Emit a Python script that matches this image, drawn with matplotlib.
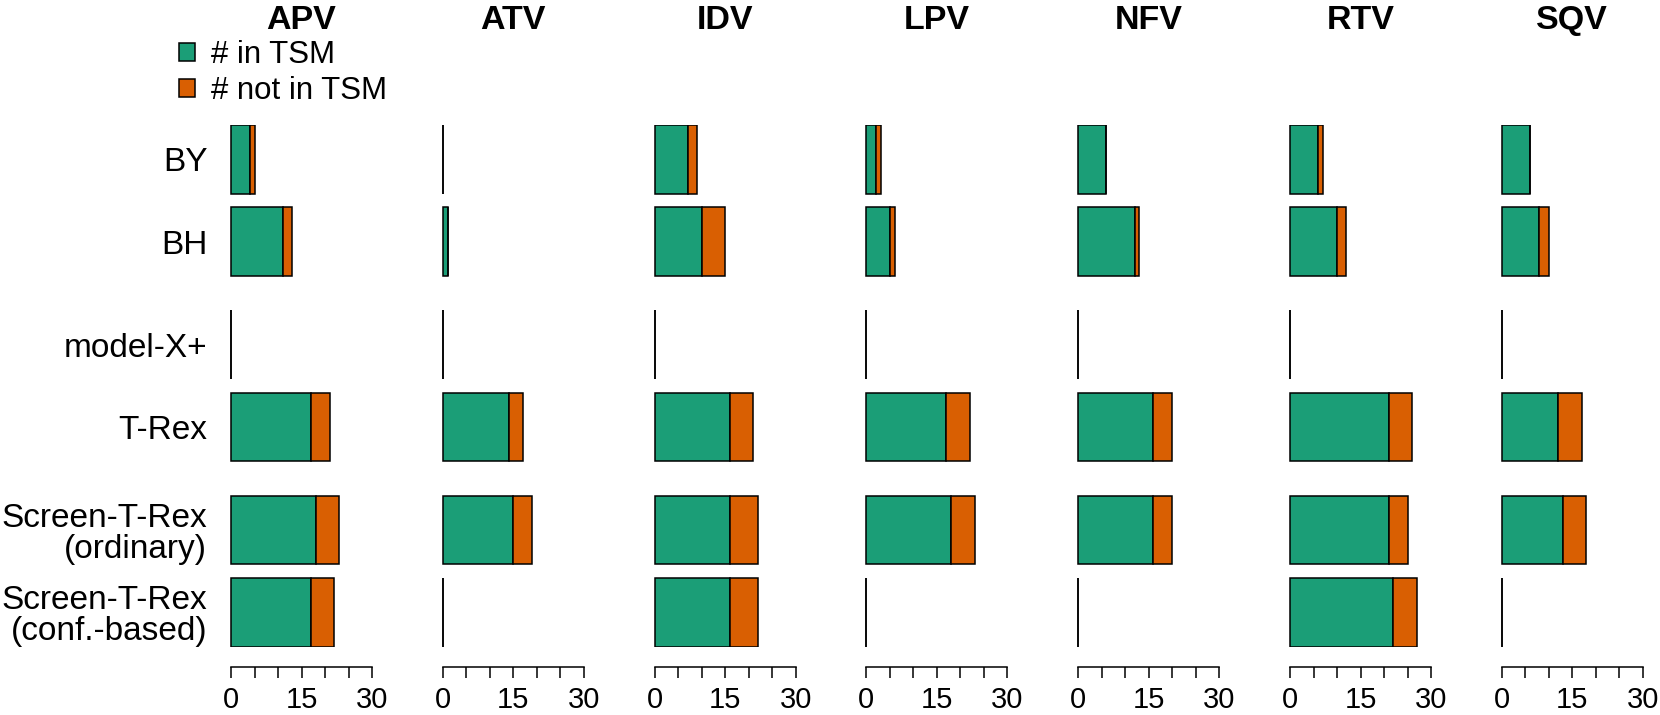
import matplotlib
matplotlib.use("Agg")
import matplotlib.pyplot as plt
import numpy as np

plt.rcParams["font.family"] = ["Liberation Sans", "DejaVu Sans"]

drugs = ["APV", "ATV", "IDV", "LPV", "NFV", "RTV", "SQV"]
methods = ["BY", "BH", "model-X+", "T-Rex",
           "Screen-T-Rex\n(ordinary)", "Screen-T-Rex\n(conf.-based)"]

# number of selected mutations per drug, in method order
in_tsm = {
    "APV": [4, 11, 0, 17, 18, 17],
    "ATV": [0, 1, 0, 14, 15, 0],
    "IDV": [7, 10, 0, 16, 16, 16],
    "LPV": [2, 5, 0, 17, 18, 0],
    "NFV": [6, 12, 0, 16, 16, 0],
    "RTV": [6, 10, 0, 21, 21, 22],
    "SQV": [6, 8, 0, 12, 13, 0],
}
not_in_tsm = {
    "APV": [1, 2, 0, 4, 5, 5],
    "ATV": [0, 0, 0, 3, 4, 0],
    "IDV": [2, 5, 0, 5, 6, 6],
    "LPV": [1, 1, 0, 5, 5, 0],
    "NFV": [0, 1, 0, 4, 4, 0],
    "RTV": [1, 2, 0, 5, 4, 5],
    "SQV": [0, 2, 0, 5, 5, 0],
}

green = "#1b9e77"
orange = "#d95f02"

# bar spacing like R barplot(space=...)
space = [0, 0.2, 0.5, 0.2, 0.5, 0.2]
ypos = np.cumsum(np.array(space) + 1) - 1

W, H = 1660, 715
fig = plt.figure(figsize=(W / 100, H / 100), dpi=100)

px_unit = 141 / 30
zero0 = 231
stride = 211.8
top, bottom = 125, 646.7

for i, drug in enumerate(drugs):
    left = zero0 + stride * i - px_unit
    ax = fig.add_axes([left / W, 1 - bottom / H, 32 * px_unit / W, (bottom - top) / H])
    g = ax.barh(ypos, in_tsm[drug], height=1, color=green,
                edgecolor="black", linewidth=1.1, label="# in TSM")
    o = ax.barh(ypos, not_in_tsm[drug], left=in_tsm[drug], height=1, color=orange,
                edgecolor="black", linewidth=1.1, label="# not in TSM")
    ax.set_xlim(-1, 31)
    ax.set_ylim(ypos[-1] + 0.5, -0.5)
    for s in ["top", "right", "left"]:
        ax.spines[s].set_visible(False)
    ax.spines["bottom"].set_bounds(0, 30)
    ax.spines["bottom"].set_position(("outward", 14.4))
    ax.spines["bottom"].set_linewidth(1.1)
    ax.set_xticks(range(0, 31, 5))
    ax.set_xticklabels(["0", "", "", "15", "", "", "30"])
    ax.tick_params(axis="x", length=8.1, width=1.1, pad=6, labelsize=21)
    ax.set_title(drug, fontsize=24.5, fontweight="bold", pad=68.9)
    if i == 0:
        ax.set_yticks(ypos)
        ax.set_yticklabels(methods, linespacing=1.02)
        ax.tick_params(axis="y", length=0, pad=13.7, labelsize=24)
        handles = [g, o]
    else:
        ax.set_yticks([])

fig.legend(handles=handles, loc="upper left", bbox_to_anchor=(179 / W, 1 - 40 / H),
           frameon=False, fontsize=22.5, handlelength=0.52, handleheight=0.52,
           handletextpad=0.5, labelspacing=0.19, borderpad=0, borderaxespad=0)

plt.savefig("out.png", dpi=100)
plt.close()
